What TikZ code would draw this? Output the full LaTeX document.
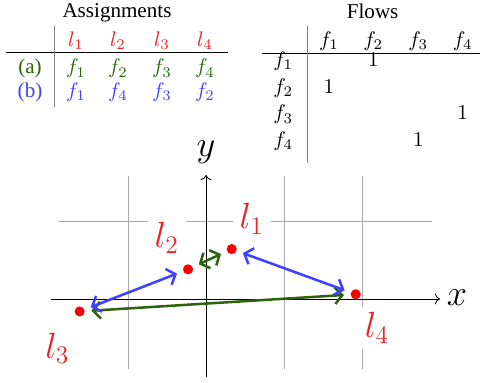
\documentclass[tikz,border=0pt]{standalone}
\usepackage[no-math]{fontspec}
\setmainfont{Liberation Serif}
\usepackage{tikz}
\usetikzlibrary{arrows.meta}
\definecolor{locred}{RGB}{235,35,35}
\definecolor{agreen}{RGB}{45,100,10}
\definecolor{bblue}{RGB}{64,64,255}
\definecolor{gridgray}{HTML}{AAAAAA}

\begin{document}
\begin{tikzpicture}[
  x=1.3cm, y=1.3cm,
  cell/.style={anchor=base, text=#1},
  cell/.default=black,
  loc/.style={circle, fill=red, inner sep=0pt, minimum size=4.8pt},
  lbl/.style={font=\LARGE, text=locred, fill=white},
  arr/.style={{Straight Barb[length=3.5pt,width=8pt]}-{Straight Barb[length=3.5pt,width=8pt]},
              very thick, color=#1, shorten <=3pt, shorten >=3pt},
  rule/.style={line width=0.5pt}
]
\useasboundingbox (-2.641,-1.077) rectangle (3.526,3.833);

% Assignments table
\node[anchor=base] (asgn) at (-1.141,3.611) {Assignments};
\node[cell=locred] (hl1) at (-1.667,3.237) {$l_1$};
\node[cell=locred] (hl2) at (-1.128,3.237) {$l_2$};
\node[cell=locred] (hl3) at (-0.564,3.237) {$l_3$};
\node[cell=locred] (hl4) at (-0.013,3.237) {$l_4$};
\node[cell=agreen] (rowa) at (-2.256,2.885) {(a)};
\node[cell=agreen] (a1) at (-1.667,2.885) {$f_1$};
\node[cell=agreen] (a2) at (-1.128,2.885) {$f_2$};
\node[cell=agreen] (a3) at (-0.564,2.885) {$f_3$};
\node[cell=agreen] (a4) at (-0.013,2.885) {$f_4$};
\node[cell=bblue] (rowb) at (-2.256,2.586) {(b)};
\node[cell=bblue] (b1) at (-1.667,2.586) {$f_1$};
\node[cell=bblue] (b2) at (-1.128,2.586) {$f_4$};
\node[cell=bblue] (b3) at (-0.564,2.586) {$f_3$};
\node[cell=bblue] (b4) at (-0.013,2.586) {$f_2$};
\draw[rule] (-2.564,3.163) -- (0.282,3.163);
\draw[rule, gray] (-1.945,3.5) -- (-1.945,2.462);

% Flows table
\node[anchor=base] (flows) at (2.137,3.599) {Flows};
\node[cell] (cf1) at (1.577,3.237) {$f_1$};
\node[cell] (cf2) at (2.145,3.237) {$f_2$};
\node[cell] (cf3) at (2.722,3.237) {$f_3$};
\node[cell] (cf4) at (3.291,3.237) {$f_4$};
\node[cell] (rf1) at (0.991,2.978) {$f_1$};
\node[cell] (rf2) at (0.991,2.637) {$f_2$};
\node[cell] (rf3) at (0.991,2.295) {$f_3$};
\node[cell] (rf4) at (0.991,1.953) {$f_4$};
\node[cell] (one12) at (2.145,2.978) {$1$};
\node[cell] (one21) at (1.577,2.637) {$1$};
\node[cell] (one34) at (3.291,2.295) {$1$};
\node[cell] (one43) at (2.722,1.953) {$1$};
\draw[rule] (0.714,3.15) -- (3.513,3.15);
\draw[rule, gray] (1.299,3.5) -- (1.299,1.744);

% Grid and axes
\draw[gridgray, thin, step=1.3cm] (-1.88,-0.9) grid (2.9,1.58);
\node[font=\LARGE] (xlbl) at (3.218,0.02) {$x$};
\node[font=\LARGE] (ylbl) at (0,1.885) {$y$};
\draw[->] (-1.99,0) -- (3.0,0);
\draw[->] (0,-1.0) -- (0,1.59);

% Locations
\node[lbl] (tl1) at (0.586,1.026) {$l_1$};
\node[lbl] (tl2) at (-0.504,0.782) {$l_2$};
\node[lbl] (tl3) at (-1.906,-0.632) {$l_3$};
\node[lbl] (tl4) at (2.192,-0.372) {$l_4$};
\node[loc] (l1) at (0.33,0.64) {};
\node[loc] (l2) at (-0.23,0.38) {};
\node[loc] (l3) at (-1.62,-0.16) {};
\node[loc] (l4) at (1.92,0.06) {};

% Flows under assignment (a)
\draw[arr=agreen] (l1) -- (l2);
\draw[arr=agreen] (l3) -- (l4);

% Flows under assignment (b)
\draw[arr=bblue] (l2) -- (l3);
\draw[arr=bblue] (l1) -- (l4);

\end{tikzpicture}
\end{document}
